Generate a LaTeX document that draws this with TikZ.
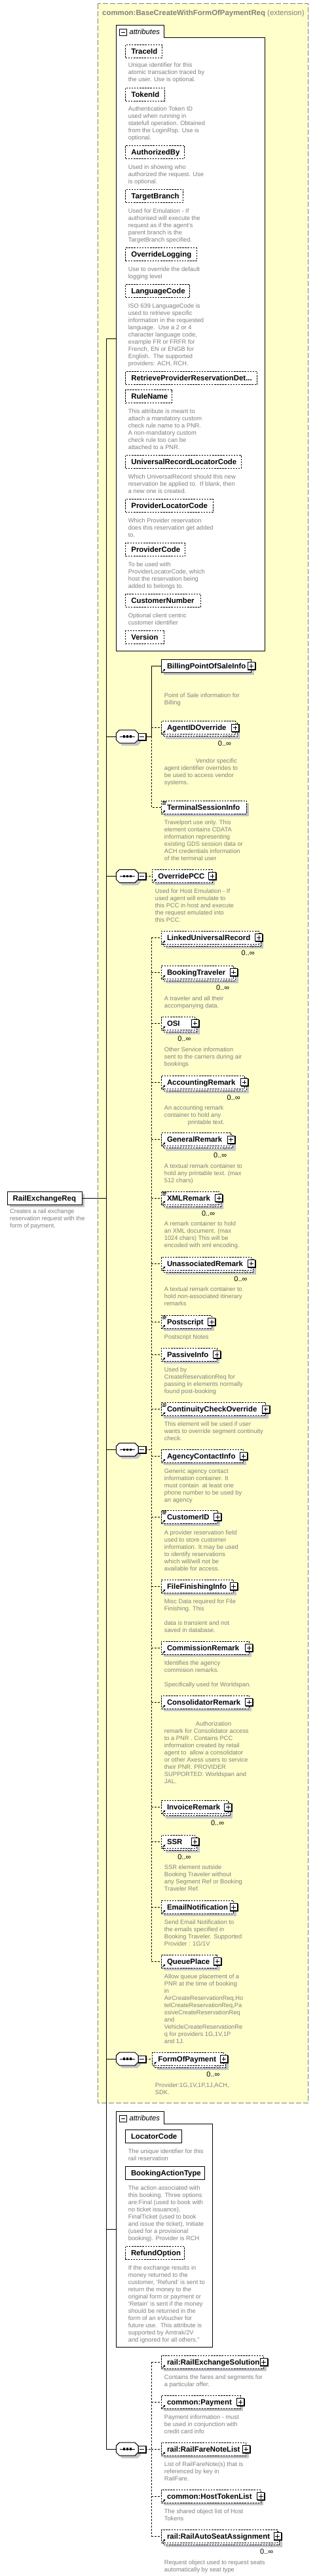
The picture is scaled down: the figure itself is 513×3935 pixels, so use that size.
\documentclass[tikz,border=0pt]{standalone}
\usepackage{fontspec}
\setmainfont{Liberation Sans}
\usetikzlibrary{arrows.meta}
\pgfdeclarelayer{bg}
\pgfdeclarelayer{sh}
\pgfsetlayers{bg,sh,main}
\definecolor{ylw}{RGB}{255,255,204}
\definecolor{bgray}{RGB}{128,128,128}
\definecolor{shd}{RGB}{196,196,204}
\definecolor{dtxt}{RGB}{128,128,128}
\tikzset{
 sbox/.style={draw=black, fill=white, line width=1pt},
 dbox/.style={sbox, dash pattern=on 2.5pt off 1.6pt},
 lbl/.style={font=\fontsize{11.4}{13}\selectfont\bfseries, inner sep=0pt, text=black},
 desc/.style={font=\fontsize{9.3}{11}\selectfont, text=dtxt, align=left, inner sep=0pt, anchor=north west},
 multl/.style={font=\fontsize{11}{13}\selectfont, inner sep=0pt, anchor=base east},
 conn/.style={line width=1pt},
 dconn/.style={line width=1pt, dash pattern=on 3pt off 2pt},
 plusb/.style={draw, fill=white, line width=1pt, minimum width=11pt, minimum height=11pt, inner sep=0pt, outer sep=0pt},
 minb/.style={draw, fill=white, line width=1pt, minimum width=11.3pt, minimum height=10pt, inner sep=0pt, outer sep=0pt},
}
\newcommand\mkEl[6]{%
 \pgfmathsetmacro\elw{#4-#2}%
 \node[#6, anchor=north west, minimum width=\elw pt, minimum height=20pt, inner sep=0pt, outer sep=0pt] (#1) at (#2,#3) {};
 \node[lbl, anchor=base west] (#1-t) at ([shift={(8.5pt,-4.1pt)}]#1.west) {#5};
 \begin{pgfonlayer}{sh}
 \fill[shd] ([shift={(4pt,-4pt)}]#1.north west) rectangle ([shift={(4pt,-4pt)}]#1.south east);
 \end{pgfonlayer}}
\newcommand\mkMult[1]{%
 \begin{pgfonlayer}{sh}
 \fill[shd] ([shift={(7pt,-7pt)}]#1.north west) rectangle ([shift={(7pt,-7pt)}]#1.south east);
 \draw[dbox] ([shift={(3pt,-3pt)}]#1.north west) rectangle ([shift={(3pt,-3pt)}]#1.south east);
 \end{pgfonlayer}
 \draw[line width=0.6pt, bgray] ([shift={(-12pt,-1pt)}]#1.south east) -- ++(3pt,-4pt) -- ++(3pt,4pt);
 \node[multl] (#1-m) at ([shift={(-6pt,-17.3pt)}]#1.south east) {0..∞};}
\newcommand\mkPlus[1]{%
 \node[plusb] (#1-p) at (#1.east) {};
 \draw[line width=1.3pt] ([shift={(1pt,0pt)}]#1-p.north east) -- ([shift={(1pt,-1pt)}]#1-p.south east) -- ([shift={(0pt,-1pt)}]#1-p.south west);
 \draw[line width=0.9pt] ([xshift=2.3pt]#1-p.west) -- ([xshift=-2.3pt]#1-p.east) ([yshift=-2.3pt]#1-p.north) -- ([yshift=2.3pt]#1-p.south);}
\newcommand\mkRef[1]{%
 \draw[line width=1pt,-{Triangle[length=2.6pt,width=3pt]}] ([shift={(2pt,1.5pt)}]#1.south west) -- ++(4pt,4pt);}
\newcommand\mkTxt[1]{%
 \draw[line width=0.7pt] ([shift={(1.5pt,-1.2pt)}]#1.north west) -- ++(6pt,0pt) ([shift={(1.5pt,-3.2pt)}]#1.north west) -- ++(6pt,0pt) ([shift={(1.5pt,-5.2pt)}]#1.north west) -- ++(5pt,0pt);}
\newcommand\mkDesc[4]{\node[desc, yshift=3.5pt] (#1) at (#2,#3) {#4};}
\newcommand\mkSeq[2]{%
 \begin{pgfonlayer}{sh}
 \fill[shd] (181.3,#2-1) -- (186.3,#2-6) -- (210,#2-6) -- (215,#2-1) -- (215,#2+9) -- (210,#2+14) -- (186.3,#2+14) -- (181.3,#2+9) -- cycle;
 \end{pgfonlayer}
 \draw[line width=1pt, fill=white] (177.3,#2-5) -- (182.3,#2-10) -- (206,#2-10) -- (211,#2-5) -- (211,#2+5) -- (206,#2+10) -- (182.3,#2+10) -- (177.3,#2+5) -- cycle;
 \draw[line width=1pt] (182.5,#2) -- (205.8,#2);
 \fill (187.6,#2-1.6) rectangle +(3.2,3.2);
 \fill (192.7,#2-1.6) rectangle +(3.2,3.2);
 \fill (197.8,#2-1.6) rectangle +(3.2,3.2);
 \coordinate (#1) at (177.3,#2);
 \node[minb] (#1-m) at (216.7,#2) {};
 \draw[line width=1.3pt] ([shift={(1pt,0pt)}]#1-m.north east) -- ([shift={(1pt,-1pt)}]#1-m.south east) -- ([shift={(0pt,-1pt)}]#1-m.south west);
 \draw[line width=1pt] ([xshift=2.3pt]#1-m.west) -- ([xshift=-2.3pt]#1-m.east);
 \coordinate (#1-o) at (#1-m.east);}
\begin{document}
\begin{tikzpicture}[x=1pt,y=-1pt]
\useasboundingbox (0,0) rectangle (513,3935);
\begin{pgfonlayer}{bg}
\fill[white] (0,0) rectangle (513,3935);
\draw[bgray, line width=1pt, dash pattern=on 8pt off 3pt, fill=ylw] (149.3,5.7) rectangle (470.7,3212.3);
\end{pgfonlayer}
\node[anchor=base west, inner sep=0pt, text=bgray, font=\fontsize{11.4}{13}\selectfont] (title) at (156,23.1) {\bfseries common:BaseCreateWithFormOfPaymentReq\mdseries\ (extension)};

% ---------- attributes box 1
\draw[line width=1pt, fill=white] (177.3,38.3) -- (250.3,38.3) -- (250.3,57.3) -- (404.3,57.3) -- (404.3,994) -- (177.3,994) -- cycle;
\node[minb, minimum width=10.6pt, minimum height=9.6pt] (at1m) at (188,49.5) {};
\draw[line width=1pt] ([xshift=2.3pt]at1m.west) -- ([xshift=-2.3pt]at1m.east);
\node[anchor=base west, inner sep=0pt, font=\fontsize{11.3}{13}\selectfont\itshape] (at1l) at (197.3,52.4) {attributes};
\coordinate (att1) at (177.3,517);

\mkEl{a1}{191.7}{68.3}{247}{TraceId}{dbox}
\mkDesc{a1-d}{195.7}{98.7}{Unique identifier for this\\atomic transaction traced by\\the user. Use is optional.}
\mkEl{a2}{191.7}{134}{251}{TokenId}{dbox}
\mkDesc{a2-d}{195.7}{165.7}{Authentication Token ID\\used when running in\\statefull operation. Obtained\\from the LoginRsp. Use is\\optional.}
\mkEl{a3}{191.7}{222.3}{281.7}{AuthorizedBy}{dbox}
\mkDesc{a3-d}{195.7}{254.7}{Used in showing who\\authorized the request. Use\\is optional.}
\mkEl{a4}{191.7}{289.3}{279.7}{TargetBranch}{dbox}
\mkDesc{a4-d}{195.7}{321.7}{Used for Emulation - If\\authorised will execute the\\request as if the agent's\\parent branch is the\\TargetBranch specified.}
\mkEl{a5}{191.7}{378.7}{300}{OverrideLogging}{dbox}
\mkDesc{a5-d}{195.7}{410.7}{Use to override the default\\logging level}
\mkEl{a6}{191.7}{434.3}{289.7}{LanguageCode}{dbox}
\mkDesc{a6-d}{195.7}{466.7}{ISO 639 LanguageCode is\\used to retrieve specific\\information in the requested\\language.\ \ Use a 2 or 4\\character language code,\\example FR or FRFR for\\French, EN or ENGB for\\English.\ \ The supported\\providers: ACH, RCH.}
\mkEl{a7}{191.7}{567.7}{392.7}{RetrieveProviderReservationDet...}{dbox}
\mkEl{a8}{191.7}{595.7}{262}{RuleName}{dbox}
\mkDesc{a8-d}{195.7}{627.7}{This attribute is meant to\\attach a mandatory custom\\check rule name to a PNR.\\A non-mandatory custom\\check rule too can be\\attached to a PNR.}
\mkEl{a9}{191.7}{695.3}{368}{UniversalRecordLocatorCode}{dbox}
\mkDesc{a9-d}{195.7}{727.7}{Which UniversalRecord should this new\\reservation be applied to.\ \ If blank, then\\a new one is created.}
\mkEl{a10}{191.7}{762.7}{325}{ProviderLocatorCode}{dbox}
\mkDesc{a10-d}{195.7}{794.7}{Which Provider reservation\\does this reservation get added\\to.}
\mkEl{a11}{191.7}{829.7}{282.7}{ProviderCode}{dbox}
\mkDesc{a11-d}{195.7}{861.7}{To be used with\\ProviderLocatorCode, which\\host the reservation being\\added to belongs to.}
\mkEl{a12}{191.7}{907.3}{306.7}{CustomerNumber}{dbox}
\mkDesc{a12-d}{195.7}{939.7}{Optional client centric\\customer identifier}
\mkEl{a13}{191.7}{963.7}{250}{Version}{dbox}

% ---------- sequence 1
\mkSeq{s1}{1125}
\mkEl{bpos}{246.3}{1007.3}{383.7}{BillingPointOfSaleInfo}{sbox}\mkPlus{bpos}\mkRef{bpos}
\mkDesc{bpos-d}{250.7}{1061.7}{Point of Sale information for\\Billing}
\mkEl{agent}{246.3}{1101.7}{359.2}{AgentIDOverride}{dbox}\mkMult{agent}\mkPlus{agent}\mkRef{agent}
\mkDesc{agent-d}{250.7}{1161.7}{\hspace*{48pt}Vendor specific\\agent identifier overrides to\\be used to access vendor\\systems.}
\mkEl{term}{246.3}{1223.3}{376}{TerminalSessionInfo}{dbox}\mkRef{term}\mkTxt{term}
\mkDesc{term-d}{250.7}{1255.7}{Travelport use only. This\\element contains CDATA\\information representing\\existing GDS session data or\\ACH credentials information\\of the terminal user}
\coordinate (b1) at (231.3,1125);
\draw[conn] (s1-o) -- (b1);
\draw[conn] (b1) -- (b1 |- bpos.west) -- (bpos.west);
\draw[dconn] (b1) -- (b1 |- term.west) -- (term.west);
\draw[dconn] (b1 |- agent.west) -- (agent.west);

% ---------- sequence 2
\mkSeq{s2}{1338.3}
\mkEl{opcc}{232.7}{1328.3}{324}{OverridePCC}{dbox}\mkPlus{opcc}\mkRef{opcc}
\mkDesc{opcc-d}{236.7}{1360.7}{Used for Host Emulation - If\\used agent will emulate to\\this PCC in host and execute\\the request emulated into\\this PCC.}
\draw[dconn] (s2-o) -- (opcc.west);

% ---------- sequence 3
\mkSeq{s3}{2214.3}
\mkEl{lur}{246.3}{1422.3}{395}{LinkedUniversalRecord}{dbox}\mkMult{lur}\mkPlus{lur}\mkRef{lur}
\mkEl{bt}{246.3}{1475}{356.5}{BookingTraveler}{dbox}\mkMult{bt}\mkPlus{bt}\mkRef{bt}
\mkDesc{bt-d}{250.7}{1524.7}{A traveler and all their\\accompanying data.}
\mkEl{osi}{246.3}{1553}{297.7}{OSI}{dbox}\mkMult{osi}\mkPlus{osi}\mkRef{osi}
\mkDesc{osi-d}{250.7}{1602.7}{Other Service information\\sent to the carriers during air\\bookings}
\mkEl{acc}{246.3}{1643}{373}{AccountingRemark}{dbox}\mkMult{acc}\mkPlus{acc}\mkRef{acc}
\mkDesc{acc-d}{250.7}{1691.7}{An accounting remark\\container to hold any\\\hspace*{36pt}printable text.}
\mkEl{gen}{246.3}{1730.7}{352.5}{GeneralRemark}{dbox}\mkMult{gen}\mkPlus{gen}\mkRef{gen}
\mkDesc{gen-d}{250.7}{1780.7}{A textual remark container to\\hold any printable text. (max\\512 chars)}
\mkEl{xml}{246.3}{1820}{334.3}{XMLRemark}{dbox}\mkMult{xml}\mkPlus{xml}\mkRef{xml}\mkTxt{xml}
\mkDesc{xml-d}{250.7}{1869.3}{A remark container to hold\\an XML document. (max\\1024 chars) This will be\\encoded with xml encoding.}
\mkEl{una}{246.3}{1920}{383.7}{UnassociatedRemark}{dbox}\mkMult{una}\mkPlus{una}\mkRef{una}
\mkDesc{una-d}{250.7}{1969.3}{A textual remark container to\\hold non-associated itinerary\\remarks}
\mkEl{ps}{246.3}{2009.3}{323.3}{Postscript}{dbox}\mkPlus{ps}\mkRef{ps}\mkTxt{ps}
\mkDesc{ps-d}{250.7}{2041.7}{Postscript Notes}
\mkEl{pi}{246.3}{2059.3}{331}{PassiveInfo}{dbox}\mkPlus{pi}\mkRef{pi}
\mkDesc{pi-d}{250.7}{2091.7}{Used by\\CreateReservationReq for\\passing in elements normally\\found post-booking}
\mkEl{cco}{246.3}{2142.7}{405.7}{ContinuityCheckOverride}{dbox}\mkPlus{cco}\mkRef{cco}\mkTxt{cco}
\mkDesc{cco-d}{250.7}{2174.7}{This element will be used if user\\wants to override segment continuity\\check.}
\mkEl{aci}{246.3}{2214.3}{371.7}{AgencyContactInfo}{dbox}\mkPlus{aci}\mkRef{aci}
\mkDesc{aci-d}{250.7}{2246.7}{Generic agency contact\\information container. It\\must contain\ \ at least one\\phone number to be used by\\an agency}
\mkEl{cid}{246.3}{2307.3}{332.3}{CustomerID}{dbox}\mkPlus{cid}\mkRef{cid}\mkTxt{cid}
\mkDesc{cid-d}{250.7}{2340.7}{A provider reservation field\\used to store customer\\information. It may be used\\to identify reservations\\which will/will not be\\available for access.}
\mkEl{ffi}{246.3}{2413.3}{356.5}{FileFinishingInfo}{dbox}\mkPlus{ffi}\mkRef{ffi}
\mkDesc{ffi-d}{250.7}{2445.7}{Misc Data required for File\\Finishing. This\\[11pt]data is transient and not\\saved in database.}
\mkEl{cr}{246.3}{2507.3}{380.3}{CommissionRemark}{dbox}\mkPlus{cr}\mkRef{cr}
\mkDesc{cr-d}{250.7}{2539.7}{Identifies the agency\\commision remarks.\\[11pt]Specifically used for Worldspan.}
\mkEl{conr}{246.3}{2590}{380.3}{ConsolidatorRemark}{dbox}\mkPlus{conr}\mkRef{conr}
\mkDesc{conr-d}{250.7}{2633.3}{\hspace*{48pt}Authorization\\remark for Consolidator access\\to a PNR . Contains PCC\\information created by retail\\agent to\ \ allow a consolidator\\or other Axess users to service\\their PNR. PROVIDER\\SUPPORTED: Worldspan and\\JAL.}
\mkEl{inv}{246.3}{2750.7}{348.3}{InvoiceRemark}{dbox}\mkMult{inv}\mkPlus{inv}\mkRef{inv}
\mkEl{ssr}{246.3}{2803.3}{297.7}{SSR}{dbox}\mkMult{ssr}\mkPlus{ssr}\mkRef{ssr}
\mkDesc{ssr-d}{250.7}{2852.3}{SSR element outside\\Booking Traveler without\\any Segment Ref or Booking\\Traveler Ref.}
\mkEl{email}{246.3}{2903.3}{356.5}{EmailNotification}{dbox}\mkPlus{email}\mkRef{email}
\mkDesc{email-d}{250.7}{2935.7}{Send Email Notification to\\the emails specified in\\Booking Traveler. Supported\\Provider : 1G/1V}
\mkEl{qp}{246.3}{2986}{331.7}{QueuePlace}{dbox}\mkPlus{qp}\mkRef{qp}
\mkDesc{qp-d}{250.7}{3018.7}{Allow queue placement of a\\PNR at the time of booking\\in\\AirCreateReservationReq,Ho\\telCreateReservationReq,Pa\\ssiveCreateReservationReq\\and\\VehicleCreateReservationRe\\q for providers 1G,1V,1P\\and 1J.}
\coordinate (b3) at (231.3,2214.3);
\draw[dconn] (s3-o) -- (b3);
\draw[dconn] (b3 |- lur.west) -- (b3 |- qp.west);
\foreach \n in {lur,bt,osi,acc,gen,xml,una,ps,pi,cco,aci,cid,ffi,cr,conr,inv,ssr,email,qp}{\draw[dconn] (b3 |- \n.west) -- (\n.west);}

% ---------- sequence 4
\mkSeq{s4}{3145}
\mkEl{fop}{232.7}{3135}{341.7}{FormOfPayment}{dbox}\mkMult{fop}\mkPlus{fop}\mkRef{fop}
\mkDesc{fop-d}{236.7}{3185}{Provider:1G,1V,1P,1J,ACH,\\SDK.}
\draw[dconn] (s4-o) -- (fop.west);

% ---------- attributes box 2
\draw[line width=1pt, fill=white] (177.3,3225) -- (250.3,3225) -- (250.3,3244.3) -- (324.3,3244.3) -- (324.3,3585.7) -- (177.3,3585.7) -- cycle;
\node[minb, minimum width=10.6pt, minimum height=9.6pt] (at2m) at (188,3236.2) {};
\draw[line width=1pt] ([xshift=2.3pt]at2m.west) -- ([xshift=-2.3pt]at2m.east);
\node[anchor=base west, inner sep=0pt, font=\fontsize{11.3}{13}\selectfont\itshape] (at2l) at (197.3,3239.1) {attributes};
\coordinate (att2) at (177.3,3405);
\mkEl{c1}{191.3}{3253.7}{277.3}{LocatorCode}{sbox}
\mkDesc{c1-d}{195.7}{3285.7}{The unique identifier for this\\rail reservation}
\mkEl{c2}{191.3}{3309.3}{312.7}{BookingActionType}{sbox}
\mkDesc{c2-d}{195.7}{3341.7}{The action associated with\\this booking. Three options\\are:Final (used to book with\\no ticket issuance),\\FinalTicket (used to book\\and issue the ticket), Initiate\\(used for a provisional\\booking). Provider is RCH}
\mkEl{c3}{191.3}{3431.7}{281.7}{RefundOption}{dbox}
\mkDesc{c3-d}{195.7}{3463.7}{If the exchange results in\\money returned to the\\customer, `Refund' is sent to\\return the money to the\\original form or payment or\\`Retain' is sent if the money\\should be returned in the\\form of an eVoucher for\\future use.\ \ This attribute is\\supported by Amtrak/2V\\and ignored for all others.''}

% ---------- sequence 5
\mkSeq{s5}{3741}
\mkEl{res}{246.3}{3598.3}{402.5}{rail:RailExchangeSolution}{dbox}\mkPlus{res}\mkRef{res}
\mkDesc{res-d}{250.7}{3631.5}{Contains the fares and segments for\\a particular offer.}
\mkEl{pay}{246.3}{3659.3}{367}{common:Payment}{dbox}\mkPlus{pay}\mkRef{pay}
\mkDesc{pay-d}{250.7}{3691.7}{Payment information - must\\be used in conjunction with\\credit card info}
\mkEl{fnl}{246.3}{3731}{375.7}{rail:RailFareNoteList}{dbox}\mkPlus{fnl}\mkRef{fnl}
\mkDesc{fnl-d}{250.7}{3763.7}{List of RailFareNote(s) that is\\referenced by key in\\RailFare.}
\mkEl{htl}{246.3}{3803.3}{398.3}{common:HostTokenList}{dbox}\mkPlus{htl}\mkRef{htl}
\mkDesc{htl-d}{250.7}{3835.7}{The shared object list of Host\\Tokens}
\mkEl{asa}{246.3}{3864.3}{423.5}{rail:RailAutoSeatAssignment}{dbox}\mkMult{asa}\mkPlus{asa}\mkRef{asa}
\mkDesc{asa-d}{250.7}{3914}{Request object used to request seats\\automatically by seat type}
\coordinate (b5) at (231.3,3741);
\draw[dconn] (s5-o) -- (b5);
\draw[dconn] (b5 |- res.west) -- (b5 |- asa.west);
\foreach \n in {res,pay,fnl,htl,asa}{\draw[dconn] (b5 |- \n.west) -- (\n.west);}

% ---------- root element and main line
\mkEl{root}{11}{1820}{125}{RailExchangeReq}{sbox}
\mkDesc{root-d}{15}{1850}{Creates a rail exchange\\reservation request with the\\form of payment.}
\coordinate (mtop) at (162.3,517);
\coordinate (mbot) at (162.3,3741);
\draw[conn] (mtop) -- (mbot);
\draw[conn] (mtop) -- (att1);
\draw[conn] (mtop |- att2) -- (att2);
\foreach \s in {s1,s2,s3,s4,s5}{\draw[conn] (mtop |- \s) -- (\s);}
\draw[conn] (root.east) -- (mtop |- root.east);
\end{tikzpicture}
\end{document}
